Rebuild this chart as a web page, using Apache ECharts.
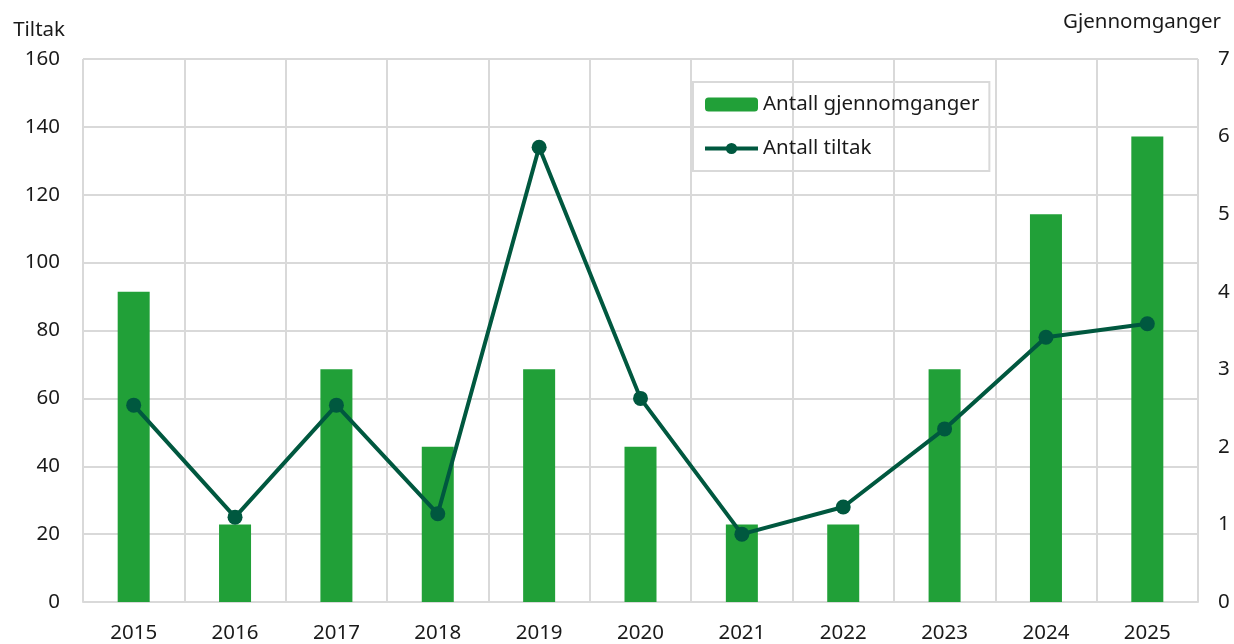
<!DOCTYPE html>
<html>
<head>
<meta charset="utf-8">
<script src="https://cdn.jsdelivr.net/npm/echarts@6/dist/echarts.min.js"></script>
<style>
  html, body { margin: 0; padding: 0; background: #fff; }
  #chart { width: 1234px; height: 644px; }
</style>
</head>
<body>
<div id="chart"></div>
<script>
const years = ['2015', '2016', '2017', '2018', '2019', '2020', '2021', '2022', '2023', '2024', '2025']
const gjennomganger = [4, 1, 3, 2, 3, 2, 1, 1, 3, 5, 6]
const tiltak = [58, 25, 58, 26, 134, 60, 20, 28, 51, 78, 82]

const font = 'Noto Sans'
const fs = 20.5
const gridColor = '#d9d9d9'
const textColor = '#1a1a1a'

const chart = echarts.init(document.getElementById('chart'))
chart.setOption({
  animation: false,
  textStyle: { fontFamily: font },
  grid: { left: 83, right: 36, top: 59, bottom: 41 },
  legend: {
    orient: 'vertical',
    left: 693,
    top: 82,
    padding: [12, 10, 12, 10],
    itemGap: 23,
    itemWidth: 53,
    itemHeight: 14,
    borderColor: gridColor,
    borderWidth: 2,
    textStyle: { fontSize: fs, color: textColor, fontFamily: font },
    data: [
      'Antall gjennomganger',
      { name: 'Antall tiltak', lineStyle: { width: 4 } }
    ]
  },
  xAxis: {
    type: 'category',
    data: years,
    axisLine: { lineStyle: { color: gridColor, width: 2 } },
    axisTick: { show: false },
    axisLabel: { fontSize: fs, color: textColor, margin: 21, fontFamily: font },
    splitLine: { show: true, lineStyle: { color: gridColor, width: 2 } }
  },
  yAxis: [
    {
      type: 'value',
      name: 'Tiltak',
      nameGap: 18,
      nameTextStyle: { fontSize: fs, color: textColor, align: 'right', padding: [0, 18, 0, 0], fontFamily: font },
      min: 0,
      max: 160,
      interval: 20,
      axisLine: { show: false },
      axisTick: { show: false },
      axisLabel: { fontSize: fs, color: textColor, margin: 23, fontFamily: font },
      splitLine: { lineStyle: { color: gridColor, width: 2 } }
    },
    {
      type: 'value',
      name: 'Gjennomganger',
      nameGap: 26,
      nameTextStyle: { fontSize: fs, color: textColor, align: 'center', padding: [0, 112, 0, 0], fontFamily: font },
      min: 0,
      max: 7,
      interval: 1,
      position: 'right',
      axisLine: { show: false },
      axisTick: { show: false },
      axisLabel: { fontSize: fs, color: textColor, margin: 20, fontFamily: font },
      splitLine: { show: false }
    }
  ],
  series: [
    {
      name: 'Antall gjennomganger',
      type: 'bar',
      yAxisIndex: 1,
      barWidth: 32,
      itemStyle: { color: '#21a038' },
      data: gjennomganger
    },
    {
      name: 'Antall tiltak',
      type: 'line',
      yAxisIndex: 0,
      symbol: 'circle',
      symbolSize: 15,
      lineStyle: { color: '#00583f', width: 4 },
      itemStyle: { color: '#00583f' },
      data: tiltak
    }
  ]
})
</script>
</body>
</html>
